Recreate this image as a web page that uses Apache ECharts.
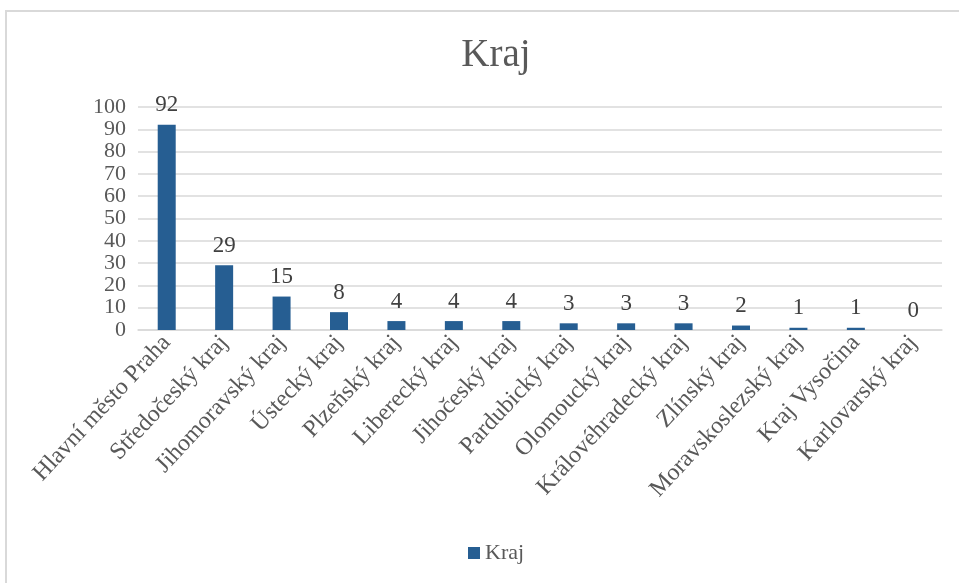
<!DOCTYPE html>
<html>
<head>
<meta charset="utf-8">
<script src="https://cdn.jsdelivr.net/npm/echarts@6/dist/echarts.min.js"></script>
<style>
  html, body { margin: 0; padding: 0; background: #fff; }
  #chart { width: 959px; height: 583px; }
</style>
</head>
<body>
<div id="chart"></div>
<script>
// Počet záznamů podle kraje
const categories = [
  'Hlavní město Praha', 'Středočeský kraj', 'Jihomoravský kraj', 'Ústecký kraj',
  'Plzeňský kraj', 'Liberecký kraj', 'Jihočeský kraj', 'Pardubický kraj',
  'Olomoucký kraj', 'Královéhradecký kraj', 'Zlínský kraj',
  'Moravskoslezský kraj', 'Kraj Vysočina', 'Karlovarský kraj'
];
const values = [92, 29, 15, 8, 4, 4, 4, 3, 3, 3, 2, 1, 1, 0];
const seriesName = 'Kraj';
const yTicks = { min: 0, max: 100, interval: 10 };

const serif = '"Liberation Serif", "Times New Roman", serif';
const textGray = '#595959';

const chart = echarts.init(document.getElementById('chart'));
chart.setOption({
  animation: false,
  backgroundColor: '#fff',
  graphic: [{
    type: 'rect',
    shape: { x: 6, y: 11, width: 1000, height: 1000 },
    style: { fill: 'none', stroke: '#d9d9d9', lineWidth: 2 },
    silent: true
  }],
  title: {
    text: seriesName,
    left: 491,
    textAlign: 'center',
    top: 31,
    textStyle: { fontFamily: serif, fontSize: 39, fontWeight: 'normal', color: textGray }
  },
  legend: {
    bottom: 14,
    left: 463,
    itemWidth: 12,
    itemHeight: 12,
    itemGap: 10,
    icon: 'rect',
    textStyle: { fontFamily: serif, fontSize: 22, color: textGray }
  },
  grid: { left: 138, right: 17, top: 107, bottom: 253 },
  xAxis: {
    type: 'category',
    data: categories,
    axisLine: { lineStyle: { color: '#d9d9d9', width: 1.5 } },
    axisTick: { show: false },
    axisLabel: {
      interval: 0,
      rotate: 47,
      margin: 9,
      fontFamily: serif,
      fontSize: 24,
      color: textGray
    }
  },
  yAxis: {
    type: 'value',
    min: yTicks.min,
    max: yTicks.max,
    interval: yTicks.interval,
    axisLine: { show: false },
    axisTick: { show: false },
    splitLine: { lineStyle: { color: '#d9d9d9', width: 1.5 } },
    axisLabel: { fontFamily: serif, fontSize: 22, color: textGray, margin: 12 }
  },
  series: [{
    name: seriesName,
    type: 'bar',
    data: values,
    barWidth: 18,
    itemStyle: { color: '#265E92' },
    label: {
      show: true,
      position: 'top',
      distance: 8,
      fontFamily: serif,
      fontSize: 23,
      color: '#404040'
    }
  }]
});
</script>
</body>
</html>
